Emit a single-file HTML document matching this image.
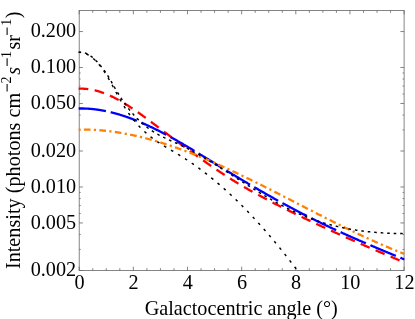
<!DOCTYPE html>
<html><head><meta charset="utf-8"><title>plot</title>
<style>html,body{margin:0;padding:0;background:#fff;}body{width:415px;height:319px;position:relative;overflow:hidden;font-family:"Liberation Serif",serif;}</style>
</head><body>
<svg width="415" height="319" viewBox="0 0 415 319" style="position:absolute;left:0;top:0;will-change:transform">
<rect width="415" height="319" fill="#fff"/>
<defs><clipPath id="c"><rect x="78.3" y="10.5" width="326.3" height="260.0"/></clipPath></defs>
<g stroke="#666" stroke-width="0.8" fill="none">
<rect x="79.2" y="10.5" width="324.90000000000003" height="260.0"/>
<path d="M79.20,270.5 v-3.8 M79.20,10.5 v3.8 M92.74,270.5 v-2.3 M92.74,10.5 v2.3 M106.28,270.5 v-2.3 M106.28,10.5 v2.3 M119.81,270.5 v-2.3 M119.81,10.5 v2.3 M133.35,270.5 v-3.8 M133.35,10.5 v3.8 M146.89,270.5 v-2.3 M146.89,10.5 v2.3 M160.43,270.5 v-2.3 M160.43,10.5 v2.3 M173.96,270.5 v-2.3 M173.96,10.5 v2.3 M187.50,270.5 v-3.8 M187.50,10.5 v3.8 M201.04,270.5 v-2.3 M201.04,10.5 v2.3 M214.57,270.5 v-2.3 M214.57,10.5 v2.3 M228.11,270.5 v-2.3 M228.11,10.5 v2.3 M241.65,270.5 v-3.8 M241.65,10.5 v3.8 M255.19,270.5 v-2.3 M255.19,10.5 v2.3 M268.73,270.5 v-2.3 M268.73,10.5 v2.3 M282.26,270.5 v-2.3 M282.26,10.5 v2.3 M295.80,270.5 v-3.8 M295.80,10.5 v3.8 M309.34,270.5 v-2.3 M309.34,10.5 v2.3 M322.88,270.5 v-2.3 M322.88,10.5 v2.3 M336.41,270.5 v-2.3 M336.41,10.5 v2.3 M349.95,270.5 v-3.8 M349.95,10.5 v3.8 M363.49,270.5 v-2.3 M363.49,10.5 v2.3 M377.03,270.5 v-2.3 M377.03,10.5 v2.3 M390.56,270.5 v-2.3 M390.56,10.5 v2.3 M404.10,270.5 v-3.8 M404.10,10.5 v3.8 M79.2,31.54 h3.7 M404.1,31.54 h-3.7 M79.2,67.51 h3.7 M404.1,67.51 h-3.7 M79.2,103.47 h3.7 M404.1,103.47 h-3.7 M79.2,151.02 h3.7 M404.1,151.02 h-3.7 M79.2,186.99 h3.7 M404.1,186.99 h-3.7 M79.2,222.95 h3.7 M404.1,222.95 h-3.7 M79.2,270.50 h3.7 M404.1,270.50 h-3.7 M79.2,249.46 h1.5 M404.1,249.46 h-1.5 M79.2,234.53 h1.5 M404.1,234.53 h-1.5 M79.2,213.49 h1.5 M404.1,213.49 h-1.5 M79.2,205.49 h1.5 M404.1,205.49 h-1.5 M79.2,198.57 h1.5 M404.1,198.57 h-1.5 M79.2,192.45 h1.5 M404.1,192.45 h-1.5 M79.2,129.98 h1.5 M404.1,129.98 h-1.5 M79.2,115.05 h1.5 M404.1,115.05 h-1.5 M79.2,94.01 h1.5 M404.1,94.01 h-1.5 M79.2,86.01 h1.5 M404.1,86.01 h-1.5 M79.2,79.09 h1.5 M404.1,79.09 h-1.5 M79.2,72.97 h1.5 M404.1,72.97 h-1.5"/>
</g>
<g clip-path="url(#c)" fill="none">
<path d="M78.50,88.75 L78.97,88.73 L79.43,88.71 L79.90,88.69 L80.37,88.68 L80.83,88.68 L81.30,88.68 L81.76,88.68 L82.23,88.68 L82.70,88.69 L83.16,88.71 L83.63,88.73 L84.10,88.75 L84.56,88.78 L85.03,88.81 L85.50,88.84 L85.96,88.88 L86.43,88.92 L86.89,88.97 L87.36,89.02 L87.83,89.07 L88.29,89.13 L88.76,89.19 L89.23,89.26 L89.69,89.33 L90.16,89.40 L90.63,89.48 L91.09,89.56 L91.56,89.64 L92.03,89.73 L92.49,89.82 L92.96,89.92 L93.42,90.02 L93.89,90.12 L94.36,90.23 L94.82,90.34 L95.29,90.45 L95.76,90.56 L96.22,90.68 L96.69,90.81 L97.16,90.93 L97.62,91.06 L98.09,91.20 L98.55,91.33 L99.02,91.47 L99.49,91.62 L99.95,91.76 L100.42,91.91 L100.89,92.07 L101.35,92.22 L101.82,92.38 L102.29,92.54 L102.75,92.71 L103.22,92.88 L103.68,93.05 L104.15,93.22 L104.62,93.40 L105.08,93.58 L105.55,93.76 L106.02,93.95 L106.48,94.14 L106.95,94.33 L107.42,94.53 L107.88,94.72 L108.35,94.92 L108.81,95.13 L109.28,95.33 L109.75,95.54 L110.21,95.75 L110.68,95.97 L111.15,96.19 L111.61,96.41 L112.08,96.63 L112.55,96.85 L113.01,97.08 L113.48,97.31 L113.94,97.54 L114.41,97.78 L114.88,98.01 L115.34,98.25 L115.81,98.50 L116.28,98.74 L116.74,98.99 L117.21,99.24 L117.68,99.49 L118.14,99.74 L118.61,100.00 L119.08,100.26 L119.54,100.52 L120.01,100.78 L120.47,101.05 L120.94,101.31 L121.41,101.58 L121.87,101.86 L122.34,102.13 L122.81,102.40 L123.27,102.68 L123.74,102.96 L124.21,103.24 L124.67,103.53 L125.14,103.81 L125.60,104.10 L126.07,104.39 L126.54,104.68 L127.00,104.97 L127.47,105.27 L127.94,105.56 L128.40,105.86 L128.87,106.16 L129.34,106.46 L129.80,106.77 L130.27,107.07 L130.73,107.38 L131.20,107.68 L131.67,107.99 L132.13,108.30 L132.60,108.62 L133.07,108.93 L133.53,109.25 L134.00,109.56 L134.47,109.88 L134.93,110.20 L135.40,110.52 L135.86,110.84 L136.33,111.17 L136.80,111.49 L137.26,111.82 L137.73,112.14 L138.20,112.47 L138.66,112.80 L139.13,113.13 L139.60,113.46 L140.06,113.79 L140.53,114.13 L140.99,114.46 L141.46,114.80 L141.93,115.13 L142.39,115.47 L142.86,115.81 L143.33,116.15 L143.79,116.49 L144.26,116.83 L144.73,117.17 L145.19,117.51 L145.66,117.85 L146.13,118.20 L146.59,118.54 L147.06,118.89 L147.52,119.23 L147.99,119.58 L148.46,119.92 L148.92,120.27 L149.39,120.62 L149.86,120.97 L150.32,121.32 L150.79,121.67 L151.26,122.02 L151.72,122.36 L152.19,122.72 L152.65,123.07 L153.12,123.42 L153.59,123.77 L154.05,124.12 L154.52,124.47 L154.99,124.82 L155.45,125.17 L155.92,125.53 L156.39,125.88 L156.85,126.23 L157.32,126.58 L157.78,126.94 L158.25,127.29 L158.72,127.64 L159.18,127.99 L159.65,128.35 L160.12,128.70 L160.58,129.05 L161.05,129.40 L161.52,129.75 L161.98,130.11 L162.45,130.46 L162.91,130.81 L163.38,131.16 L163.85,131.51 L164.31,131.87 L164.78,132.22 L165.25,132.57 L165.71,132.92 L166.18,133.27 L166.65,133.62 L167.11,133.97 L167.58,134.33 L168.05,134.68 L168.51,135.03 L168.98,135.38 L169.44,135.73 L169.91,136.08 L170.38,136.43 L170.84,136.78 L171.31,137.13 L171.78,137.48 L172.24,137.83 L172.71,138.18 L173.18,138.53 L173.64,138.88 L174.11,139.22 L174.57,139.57 L175.04,139.92 L175.51,140.27 L175.97,140.62 L176.44,140.97 L176.91,141.31 L177.37,141.66 L177.84,142.01 L178.31,142.36 L178.77,142.70 L179.24,143.05 L179.70,143.40 L180.17,143.74 L180.64,144.09 L181.10,144.43 L181.57,144.78 L182.04,145.12 L182.50,145.47 L182.97,145.81 L183.44,146.16 L183.90,146.50 L184.37,146.85 L184.83,147.19 L185.30,147.53 L185.77,147.87 L186.23,148.22 L186.70,148.56 L187.17,148.90 L187.63,149.24 L188.10,149.59 L188.57,149.93 L189.03,150.27 L189.50,150.61 L189.96,150.95 L190.43,151.29 L190.90,151.63 L191.36,151.97 L191.83,152.30 L192.30,152.64 L192.76,152.98 L193.23,153.32 L193.70,153.66 L194.16,153.99 L194.63,154.33 L195.10,154.67 L195.56,155.00 L196.03,155.34 L196.49,155.67 L196.96,156.01 L197.43,156.34 L197.89,156.68 L198.36,157.01 L198.83,157.34 L199.29,157.67 L199.76,158.01 L200.23,158.34 L200.69,158.67 L201.16,159.00 L201.62,159.33 L202.09,159.66 L202.56,159.99 L203.02,160.32 L203.49,160.65 L203.96,160.98 L204.42,161.30 L204.89,161.63 L205.36,161.96 L205.82,162.28 L206.29,162.61 L206.75,162.94 L207.22,163.26 L207.69,163.58 L208.15,163.91 L208.62,164.23 L209.09,164.55 L209.55,164.88 L210.02,165.20 L210.49,165.52 L210.95,165.84 L211.42,166.16 L211.88,166.48 L212.35,166.80 L212.82,167.12 L213.28,167.44 L213.75,167.75 L214.22,168.07 L214.68,168.39 L215.15,168.70 L215.62,169.02 L216.08,169.33 L216.55,169.64 L217.02,169.96 L217.48,170.27 L217.95,170.58 L218.41,170.89 L218.88,171.21 L219.35,171.52 L219.81,171.83 L220.28,172.13 L220.75,172.44 L221.21,172.75 L221.68,173.06 L222.15,173.36 L222.61,173.67 L223.08,173.98 L223.54,174.28 L224.01,174.58 L224.48,174.89 L224.94,175.19 L225.41,175.49 L225.88,175.79 L226.34,176.09 L226.81,176.39 L227.28,176.69 L227.74,176.99 L228.21,177.29 L228.67,177.59 L229.14,177.88 L229.61,178.18 L230.07,178.47 L230.54,178.77 L231.01,179.06 L231.47,179.36 L231.94,179.65 L232.41,179.94 L232.87,180.23 L233.34,180.52 L233.80,180.81 L234.27,181.10 L234.74,181.38 L235.20,181.67 L235.67,181.96 L236.14,182.24 L236.60,182.53 L237.07,182.81 L237.54,183.09 L238.00,183.38 L238.47,183.66 L238.93,183.94 L239.40,184.22 L239.87,184.50 L240.33,184.78 L240.80,185.05 L241.27,185.33 L241.73,185.61 L242.20,185.88 L242.67,186.16 L243.13,186.43 L243.60,186.70 L244.07,186.97 L244.53,187.25 L245.00,187.52 L245.46,187.79 L245.93,188.06 L246.40,188.33 L246.86,188.59 L247.33,188.86 L247.80,189.13 L248.26,189.39 L248.73,189.66 L249.20,189.92 L249.66,190.19 L250.13,190.45 L250.59,190.71 L251.06,190.97 L251.53,191.24 L251.99,191.50 L252.46,191.76 L252.93,192.02 L253.39,192.28 L253.86,192.53 L254.33,192.79 L254.79,193.05 L255.26,193.31 L255.72,193.56 L256.19,193.82 L256.66,194.07 L257.12,194.33 L257.59,194.58 L258.06,194.83 L258.52,195.09 L258.99,195.34 L259.46,195.59 L259.92,195.84 L260.39,196.09 L260.85,196.34 L261.32,196.59 L261.79,196.84 L262.25,197.09 L262.72,197.34 L263.19,197.59 L263.65,197.83 L264.12,198.08 L264.59,198.33 L265.05,198.57 L265.52,198.82 L265.98,199.06 L266.45,199.31 L266.92,199.55 L267.38,199.80 L267.85,200.04 L268.32,200.29 L268.78,200.53 L269.25,200.77 L269.72,201.01 L270.18,201.25 L270.65,201.50 L271.12,201.74 L271.58,201.98 L272.05,202.22 L272.51,202.46 L272.98,202.70 L273.45,202.94 L273.91,203.18 L274.38,203.41 L274.85,203.65 L275.31,203.89 L275.78,204.13 L276.25,204.37 L276.71,204.60 L277.18,204.84 L277.64,205.08 L278.11,205.31 L278.58,205.55 L279.04,205.79 L279.51,206.02 L279.98,206.26 L280.44,206.49 L280.91,206.73 L281.38,206.96 L281.84,207.20 L282.31,207.43 L282.77,207.66 L283.24,207.90 L283.71,208.13 L284.17,208.36 L284.64,208.60 L285.11,208.83 L285.57,209.06 L286.04,209.29 L286.51,209.52 L286.97,209.76 L287.44,209.99 L287.90,210.22 L288.37,210.45 L288.84,210.68 L289.30,210.91 L289.77,211.14 L290.24,211.37 L290.70,211.60 L291.17,211.83 L291.64,212.06 L292.10,212.28 L292.57,212.51 L293.04,212.74 L293.50,212.97 L293.97,213.20 L294.43,213.42 L294.90,213.65 L295.37,213.88 L295.83,214.10 L296.30,214.33 L296.77,214.56 L297.23,214.78 L297.70,215.01 L298.17,215.23 L298.63,215.46 L299.10,215.69 L299.56,215.91 L300.03,216.13 L300.50,216.36 L300.96,216.58 L301.43,216.81 L301.90,217.03 L302.36,217.25 L302.83,217.48 L303.30,217.70 L303.76,217.92 L304.23,218.15 L304.69,218.37 L305.16,218.59 L305.63,218.81 L306.09,219.04 L306.56,219.26 L307.03,219.48 L307.49,219.70 L307.96,219.92 L308.43,220.14 L308.89,220.36 L309.36,220.58 L309.82,220.80 L310.29,221.02 L310.76,221.24 L311.22,221.46 L311.69,221.68 L312.16,221.90 L312.62,222.12 L313.09,222.34 L313.56,222.56 L314.02,222.78 L314.49,223.00 L314.95,223.21 L315.42,223.43 L315.89,223.65 L316.35,223.87 L316.82,224.08 L317.29,224.30 L317.75,224.52 L318.22,224.74 L318.69,224.95 L319.15,225.17 L319.62,225.39 L320.09,225.60 L320.55,225.82 L321.02,226.03 L321.48,226.25 L321.95,226.46 L322.42,226.68 L322.88,226.90 L323.35,227.11 L323.82,227.33 L324.28,227.54 L324.75,227.75 L325.22,227.97 L325.68,228.18 L326.15,228.40 L326.61,228.61 L327.08,228.82 L327.55,229.04 L328.01,229.25 L328.48,229.46 L328.95,229.68 L329.41,229.89 L329.88,230.10 L330.35,230.32 L330.81,230.53 L331.28,230.74 L331.74,230.95 L332.21,231.16 L332.68,231.38 L333.14,231.59 L333.61,231.80 L334.08,232.01 L334.54,232.22 L335.01,232.43 L335.48,232.64 L335.94,232.85 L336.41,233.06 L336.87,233.27 L337.34,233.48 L337.81,233.69 L338.27,233.90 L338.74,234.11 L339.21,234.32 L339.67,234.53 L340.14,234.74 L340.61,234.95 L341.07,235.16 L341.54,235.37 L342.01,235.58 L342.47,235.79 L342.94,235.99 L343.40,236.20 L343.87,236.41 L344.34,236.62 L344.80,236.83 L345.27,237.03 L345.74,237.24 L346.20,237.45 L346.67,237.66 L347.14,237.86 L347.60,238.07 L348.07,238.28 L348.53,238.48 L349.00,238.69 L349.47,238.90 L349.93,239.10 L350.40,239.31 L350.87,239.51 L351.33,239.72 L351.80,239.93 L352.27,240.13 L352.73,240.34 L353.20,240.54 L353.66,240.75 L354.13,240.95 L354.60,241.16 L355.06,241.36 L355.53,241.57 L356.00,241.77 L356.46,241.98 L356.93,242.18 L357.40,242.38 L357.86,242.59 L358.33,242.79 L358.79,243.00 L359.26,243.20 L359.73,243.40 L360.19,243.61 L360.66,243.81 L361.13,244.01 L361.59,244.21 L362.06,244.42 L362.53,244.62 L362.99,244.82 L363.46,245.03 L363.92,245.23 L364.39,245.43 L364.86,245.63 L365.32,245.83 L365.79,246.04 L366.26,246.24 L366.72,246.44 L367.19,246.64 L367.66,246.84 L368.12,247.04 L368.59,247.24 L369.06,247.45 L369.52,247.65 L369.99,247.85 L370.45,248.05 L370.92,248.25 L371.39,248.45 L371.85,248.65 L372.32,248.85 L372.79,249.05 L373.25,249.25 L373.72,249.45 L374.19,249.65 L374.65,249.85 L375.12,250.05 L375.58,250.25 L376.05,250.45 L376.52,250.65 L376.98,250.85 L377.45,251.04 L377.92,251.24 L378.38,251.44 L378.85,251.64 L379.32,251.84 L379.78,252.04 L380.25,252.24 L380.71,252.43 L381.18,252.63 L381.65,252.83 L382.11,253.03 L382.58,253.23 L383.05,253.42 L383.51,253.62 L383.98,253.82 L384.45,254.02 L384.91,254.22 L385.38,254.41 L385.84,254.61 L386.31,254.81 L386.78,255.00 L387.24,255.20 L387.71,255.40 L388.18,255.59 L388.64,255.79 L389.11,255.99 L389.58,256.18 L390.04,256.38 L390.51,256.58 L390.97,256.77 L391.44,256.97 L391.91,257.16 L392.37,257.36 L392.84,257.56 L393.31,257.75 L393.77,257.95 L394.24,258.14 L394.71,258.34 L395.17,258.53 L395.64,258.73 L396.11,258.93 L396.57,259.12 L397.04,259.32 L397.50,259.51 L397.97,259.71 L398.44,259.90 L398.90,260.09 L399.37,260.29 L399.84,260.48 L400.30,260.68 L400.77,260.87 L401.24,261.07 L401.70,261.26 L402.17,261.46 L402.63,261.65 L403.10,261.84 L403.57,262.04 L404.03,262.23 L404.50,262.43" stroke="#ff0000" stroke-width="2.3" stroke-dasharray="9.8 6.44"/>
<path d="M78.50,108.51 L78.97,108.50 L79.43,108.49 L79.90,108.48 L80.37,108.48 L80.83,108.48 L81.30,108.48 L81.76,108.48 L82.23,108.48 L82.70,108.49 L83.16,108.50 L83.63,108.51 L84.10,108.52 L84.56,108.53 L85.03,108.55 L85.50,108.57 L85.96,108.58 L86.43,108.61 L86.89,108.63 L87.36,108.65 L87.83,108.68 L88.29,108.71 L88.76,108.74 L89.23,108.77 L89.69,108.81 L90.16,108.85 L90.63,108.88 L91.09,108.92 L91.56,108.97 L92.03,109.01 L92.49,109.06 L92.96,109.10 L93.42,109.15 L93.89,109.20 L94.36,109.26 L94.82,109.31 L95.29,109.37 L95.76,109.43 L96.22,109.49 L96.69,109.55 L97.16,109.61 L97.62,109.68 L98.09,109.75 L98.55,109.81 L99.02,109.89 L99.49,109.96 L99.95,110.03 L100.42,110.11 L100.89,110.19 L101.35,110.26 L101.82,110.35 L102.29,110.43 L102.75,110.51 L103.22,110.60 L103.68,110.69 L104.15,110.78 L104.62,110.87 L105.08,110.96 L105.55,111.05 L106.02,111.15 L106.48,111.25 L106.95,111.35 L107.42,111.45 L107.88,111.55 L108.35,111.65 L108.81,111.76 L109.28,111.87 L109.75,111.98 L110.21,112.09 L110.68,112.20 L111.15,112.31 L111.61,112.43 L112.08,112.54 L112.55,112.66 L113.01,112.78 L113.48,112.90 L113.94,113.02 L114.41,113.15 L114.88,113.27 L115.34,113.40 L115.81,113.53 L116.28,113.66 L116.74,113.79 L117.21,113.93 L117.68,114.06 L118.14,114.20 L118.61,114.33 L119.08,114.47 L119.54,114.61 L120.01,114.75 L120.47,114.90 L120.94,115.04 L121.41,115.19 L121.87,115.34 L122.34,115.48 L122.81,115.63 L123.27,115.79 L123.74,115.94 L124.21,116.09 L124.67,116.25 L125.14,116.41 L125.60,116.56 L126.07,116.72 L126.54,116.89 L127.00,117.05 L127.47,117.21 L127.94,117.38 L128.40,117.54 L128.87,117.71 L129.34,117.88 L129.80,118.05 L130.27,118.22 L130.73,118.39 L131.20,118.57 L131.67,118.74 L132.13,118.92 L132.60,119.10 L133.07,119.28 L133.53,119.46 L134.00,119.64 L134.47,119.82 L134.93,120.00 L135.40,120.19 L135.86,120.37 L136.33,120.56 L136.80,120.75 L137.26,120.94 L137.73,121.13 L138.20,121.32 L138.66,121.52 L139.13,121.71 L139.60,121.91 L140.06,122.10 L140.53,122.30 L140.99,122.50 L141.46,122.70 L141.93,122.90 L142.39,123.10 L142.86,123.31 L143.33,123.51 L143.79,123.71 L144.26,123.92 L144.73,124.13 L145.19,124.34 L145.66,124.55 L146.13,124.76 L146.59,124.97 L147.06,125.18 L147.52,125.40 L147.99,125.61 L148.46,125.83 L148.92,126.04 L149.39,126.26 L149.86,126.48 L150.32,126.70 L150.79,126.92 L151.26,127.14 L151.72,127.36 L152.19,127.59 L152.65,127.81 L153.12,128.04 L153.59,128.26 L154.05,128.49 L154.52,128.72 L154.99,128.95 L155.45,129.18 L155.92,129.41 L156.39,129.64 L156.85,129.87 L157.32,130.11 L157.78,130.34 L158.25,130.58 L158.72,130.81 L159.18,131.05 L159.65,131.29 L160.12,131.53 L160.58,131.77 L161.05,132.01 L161.52,132.25 L161.98,132.49 L162.45,132.73 L162.91,132.98 L163.38,133.22 L163.85,133.47 L164.31,133.71 L164.78,133.96 L165.25,134.21 L165.71,134.45 L166.18,134.70 L166.65,134.95 L167.11,135.20 L167.58,135.45 L168.05,135.71 L168.51,135.96 L168.98,136.21 L169.44,136.47 L169.91,136.72 L170.38,136.98 L170.84,137.23 L171.31,137.49 L171.78,137.75 L172.24,138.00 L172.71,138.26 L173.18,138.52 L173.64,138.78 L174.11,139.04 L174.57,139.30 L175.04,139.56 L175.51,139.83 L175.97,140.09 L176.44,140.35 L176.91,140.62 L177.37,140.88 L177.84,141.15 L178.31,141.41 L178.77,141.68 L179.24,141.95 L179.70,142.22 L180.17,142.48 L180.64,142.75 L181.10,143.02 L181.57,143.29 L182.04,143.56 L182.50,143.83 L182.97,144.10 L183.44,144.38 L183.90,144.65 L184.37,144.92 L184.83,145.19 L185.30,145.47 L185.77,145.74 L186.23,146.02 L186.70,146.29 L187.17,146.57 L187.63,146.84 L188.10,147.12 L188.57,147.40 L189.03,147.67 L189.50,147.95 L189.96,148.23 L190.43,148.51 L190.90,148.79 L191.36,149.06 L191.83,149.34 L192.30,149.62 L192.76,149.90 L193.23,150.18 L193.70,150.47 L194.16,150.75 L194.63,151.03 L195.10,151.31 L195.56,151.59 L196.03,151.88 L196.49,152.16 L196.96,152.44 L197.43,152.72 L197.89,153.01 L198.36,153.29 L198.83,153.58 L199.29,153.86 L199.76,154.15 L200.23,154.43 L200.69,154.72 L201.16,155.00 L201.62,155.29 L202.09,155.57 L202.56,155.86 L203.02,156.14 L203.49,156.43 L203.96,156.72 L204.42,157.00 L204.89,157.29 L205.36,157.58 L205.82,157.86 L206.29,158.15 L206.75,158.44 L207.22,158.73 L207.69,159.01 L208.15,159.30 L208.62,159.59 L209.09,159.88 L209.55,160.16 L210.02,160.45 L210.49,160.74 L210.95,161.03 L211.42,161.32 L211.88,161.60 L212.35,161.89 L212.82,162.18 L213.28,162.47 L213.75,162.76 L214.22,163.04 L214.68,163.33 L215.15,163.62 L215.62,163.91 L216.08,164.19 L216.55,164.48 L217.02,164.77 L217.48,165.06 L217.95,165.34 L218.41,165.63 L218.88,165.92 L219.35,166.21 L219.81,166.49 L220.28,166.78 L220.75,167.07 L221.21,167.35 L221.68,167.64 L222.15,167.92 L222.61,168.21 L223.08,168.50 L223.54,168.78 L224.01,169.07 L224.48,169.35 L224.94,169.64 L225.41,169.92 L225.88,170.21 L226.34,170.49 L226.81,170.78 L227.28,171.06 L227.74,171.34 L228.21,171.63 L228.67,171.91 L229.14,172.20 L229.61,172.48 L230.07,172.76 L230.54,173.04 L231.01,173.33 L231.47,173.61 L231.94,173.89 L232.41,174.17 L232.87,174.46 L233.34,174.74 L233.80,175.02 L234.27,175.30 L234.74,175.58 L235.20,175.86 L235.67,176.14 L236.14,176.43 L236.60,176.71 L237.07,176.99 L237.54,177.27 L238.00,177.55 L238.47,177.83 L238.93,178.10 L239.40,178.38 L239.87,178.66 L240.33,178.94 L240.80,179.22 L241.27,179.50 L241.73,179.78 L242.20,180.05 L242.67,180.33 L243.13,180.61 L243.60,180.89 L244.07,181.16 L244.53,181.44 L245.00,181.72 L245.46,181.99 L245.93,182.27 L246.40,182.55 L246.86,182.82 L247.33,183.10 L247.80,183.37 L248.26,183.65 L248.73,183.92 L249.20,184.20 L249.66,184.47 L250.13,184.74 L250.59,185.02 L251.06,185.29 L251.53,185.57 L251.99,185.84 L252.46,186.11 L252.93,186.38 L253.39,186.66 L253.86,186.93 L254.33,187.20 L254.79,187.47 L255.26,187.74 L255.72,188.01 L256.19,188.29 L256.66,188.56 L257.12,188.83 L257.59,189.10 L258.06,189.37 L258.52,189.64 L258.99,189.91 L259.46,190.17 L259.92,190.44 L260.39,190.71 L260.85,190.98 L261.32,191.25 L261.79,191.52 L262.25,191.78 L262.72,192.05 L263.19,192.32 L263.65,192.58 L264.12,192.85 L264.59,193.12 L265.05,193.38 L265.52,193.65 L265.98,193.91 L266.45,194.18 L266.92,194.44 L267.38,194.71 L267.85,194.97 L268.32,195.24 L268.78,195.50 L269.25,195.76 L269.72,196.03 L270.18,196.29 L270.65,196.55 L271.12,196.81 L271.58,197.08 L272.05,197.34 L272.51,197.60 L272.98,197.86 L273.45,198.12 L273.91,198.38 L274.38,198.64 L274.85,198.90 L275.31,199.16 L275.78,199.42 L276.25,199.68 L276.71,199.94 L277.18,200.20 L277.64,200.46 L278.11,200.71 L278.58,200.97 L279.04,201.23 L279.51,201.49 L279.98,201.74 L280.44,202.00 L280.91,202.25 L281.38,202.51 L281.84,202.77 L282.31,203.02 L282.77,203.28 L283.24,203.53 L283.71,203.78 L284.17,204.04 L284.64,204.29 L285.11,204.54 L285.57,204.80 L286.04,205.05 L286.51,205.30 L286.97,205.55 L287.44,205.80 L287.90,206.06 L288.37,206.31 L288.84,206.56 L289.30,206.81 L289.77,207.06 L290.24,207.31 L290.70,207.56 L291.17,207.80 L291.64,208.05 L292.10,208.30 L292.57,208.55 L293.04,208.80 L293.50,209.04 L293.97,209.29 L294.43,209.54 L294.90,209.78 L295.37,210.03 L295.83,210.27 L296.30,210.52 L296.77,210.76 L297.23,211.01 L297.70,211.25 L298.17,211.50 L298.63,211.74 L299.10,211.98 L299.56,212.22 L300.03,212.47 L300.50,212.71 L300.96,212.95 L301.43,213.19 L301.90,213.43 L302.36,213.67 L302.83,213.91 L303.30,214.15 L303.76,214.39 L304.23,214.63 L304.69,214.87 L305.16,215.11 L305.63,215.34 L306.09,215.58 L306.56,215.82 L307.03,216.06 L307.49,216.29 L307.96,216.53 L308.43,216.76 L308.89,217.00 L309.36,217.23 L309.82,217.47 L310.29,217.70 L310.76,217.94 L311.22,218.17 L311.69,218.40 L312.16,218.63 L312.62,218.87 L313.09,219.10 L313.56,219.33 L314.02,219.56 L314.49,219.79 L314.95,220.02 L315.42,220.25 L315.89,220.48 L316.35,220.71 L316.82,220.94 L317.29,221.17 L317.75,221.39 L318.22,221.62 L318.69,221.85 L319.15,222.08 L319.62,222.30 L320.09,222.53 L320.55,222.75 L321.02,222.98 L321.48,223.20 L321.95,223.43 L322.42,223.65 L322.88,223.88 L323.35,224.10 L323.82,224.33 L324.28,224.55 L324.75,224.77 L325.22,224.99 L325.68,225.22 L326.15,225.44 L326.61,225.66 L327.08,225.88 L327.55,226.10 L328.01,226.32 L328.48,226.54 L328.95,226.76 L329.41,226.98 L329.88,227.20 L330.35,227.42 L330.81,227.64 L331.28,227.86 L331.74,228.07 L332.21,228.29 L332.68,228.51 L333.14,228.73 L333.61,228.94 L334.08,229.16 L334.54,229.37 L335.01,229.59 L335.48,229.81 L335.94,230.02 L336.41,230.24 L336.87,230.45 L337.34,230.66 L337.81,230.88 L338.27,231.09 L338.74,231.31 L339.21,231.52 L339.67,231.73 L340.14,231.95 L340.61,232.16 L341.07,232.37 L341.54,232.58 L342.01,232.79 L342.47,233.00 L342.94,233.22 L343.40,233.43 L343.87,233.64 L344.34,233.85 L344.80,234.06 L345.27,234.27 L345.74,234.48 L346.20,234.69 L346.67,234.89 L347.14,235.10 L347.60,235.31 L348.07,235.52 L348.53,235.73 L349.00,235.94 L349.47,236.14 L349.93,236.35 L350.40,236.56 L350.87,236.76 L351.33,236.97 L351.80,237.18 L352.27,237.38 L352.73,237.59 L353.20,237.80 L353.66,238.00 L354.13,238.21 L354.60,238.41 L355.06,238.62 L355.53,238.82 L356.00,239.03 L356.46,239.23 L356.93,239.43 L357.40,239.64 L357.86,239.84 L358.33,240.04 L358.79,240.25 L359.26,240.45 L359.73,240.65 L360.19,240.86 L360.66,241.06 L361.13,241.26 L361.59,241.46 L362.06,241.66 L362.53,241.86 L362.99,242.07 L363.46,242.27 L363.92,242.47 L364.39,242.67 L364.86,242.87 L365.32,243.07 L365.79,243.27 L366.26,243.47 L366.72,243.67 L367.19,243.87 L367.66,244.07 L368.12,244.27 L368.59,244.47 L369.06,244.67 L369.52,244.87 L369.99,245.07 L370.45,245.26 L370.92,245.46 L371.39,245.66 L371.85,245.86 L372.32,246.06 L372.79,246.25 L373.25,246.45 L373.72,246.65 L374.19,246.85 L374.65,247.04 L375.12,247.24 L375.58,247.44 L376.05,247.64 L376.52,247.83 L376.98,248.03 L377.45,248.23 L377.92,248.42 L378.38,248.62 L378.85,248.81 L379.32,249.01 L379.78,249.21 L380.25,249.40 L380.71,249.60 L381.18,249.79 L381.65,249.99 L382.11,250.18 L382.58,250.38 L383.05,250.57 L383.51,250.77 L383.98,250.96 L384.45,251.16 L384.91,251.35 L385.38,251.55 L385.84,251.74 L386.31,251.94 L386.78,252.13 L387.24,252.32 L387.71,252.52 L388.18,252.71 L388.64,252.91 L389.11,253.10 L389.58,253.29 L390.04,253.49 L390.51,253.68 L390.97,253.87 L391.44,254.07 L391.91,254.26 L392.37,254.45 L392.84,254.65 L393.31,254.84 L393.77,255.03 L394.24,255.23 L394.71,255.42 L395.17,255.61 L395.64,255.80 L396.11,256.00 L396.57,256.19 L397.04,256.38 L397.50,256.58 L397.97,256.77 L398.44,256.96 L398.90,257.15 L399.37,257.35 L399.84,257.54 L400.30,257.73 L400.77,257.92 L401.24,258.11 L401.70,258.31 L402.17,258.50 L402.63,258.69 L403.10,258.88 L403.57,259.07 L404.03,259.27 L404.50,259.46" stroke="#0000ff" stroke-width="2.3" stroke-dasharray="27.6 4.9"/>
<path d="M78.50,129.56 L78.97,129.56 L79.43,129.55 L79.90,129.55 L80.37,129.54 L80.83,129.54 L81.30,129.53 L81.76,129.53 L82.23,129.53 L82.70,129.53 L83.16,129.54 L83.63,129.54 L84.10,129.54 L84.56,129.55 L85.03,129.55 L85.50,129.56 L85.96,129.57 L86.43,129.58 L86.89,129.59 L87.36,129.60 L87.83,129.61 L88.29,129.62 L88.76,129.64 L89.23,129.65 L89.69,129.67 L90.16,129.69 L90.63,129.70 L91.09,129.72 L91.56,129.74 L92.03,129.76 L92.49,129.79 L92.96,129.81 L93.42,129.83 L93.89,129.86 L94.36,129.89 L94.82,129.91 L95.29,129.94 L95.76,129.97 L96.22,130.00 L96.69,130.03 L97.16,130.06 L97.62,130.10 L98.09,130.13 L98.55,130.16 L99.02,130.20 L99.49,130.24 L99.95,130.27 L100.42,130.31 L100.89,130.35 L101.35,130.39 L101.82,130.43 L102.29,130.48 L102.75,130.52 L103.22,130.56 L103.68,130.61 L104.15,130.66 L104.62,130.70 L105.08,130.75 L105.55,130.80 L106.02,130.85 L106.48,130.90 L106.95,130.95 L107.42,131.01 L107.88,131.06 L108.35,131.11 L108.81,131.17 L109.28,131.23 L109.75,131.28 L110.21,131.34 L110.68,131.40 L111.15,131.46 L111.61,131.52 L112.08,131.58 L112.55,131.65 L113.01,131.71 L113.48,131.78 L113.94,131.84 L114.41,131.91 L114.88,131.97 L115.34,132.04 L115.81,132.11 L116.28,132.18 L116.74,132.25 L117.21,132.32 L117.68,132.40 L118.14,132.47 L118.61,132.54 L119.08,132.62 L119.54,132.69 L120.01,132.77 L120.47,132.85 L120.94,132.93 L121.41,133.01 L121.87,133.09 L122.34,133.17 L122.81,133.25 L123.27,133.33 L123.74,133.42 L124.21,133.50 L124.67,133.59 L125.14,133.67 L125.60,133.76 L126.07,133.85 L126.54,133.94 L127.00,134.03 L127.47,134.12 L127.94,134.21 L128.40,134.30 L128.87,134.39 L129.34,134.49 L129.80,134.58 L130.27,134.67 L130.73,134.77 L131.20,134.87 L131.67,134.97 L132.13,135.06 L132.60,135.16 L133.07,135.26 L133.53,135.36 L134.00,135.47 L134.47,135.57 L134.93,135.67 L135.40,135.77 L135.86,135.88 L136.33,135.98 L136.80,136.09 L137.26,136.20 L137.73,136.31 L138.20,136.41 L138.66,136.52 L139.13,136.63 L139.60,136.75 L140.06,136.86 L140.53,136.97 L140.99,137.08 L141.46,137.20 L141.93,137.31 L142.39,137.43 L142.86,137.54 L143.33,137.66 L143.79,137.78 L144.26,137.90 L144.73,138.02 L145.19,138.14 L145.66,138.26 L146.13,138.38 L146.59,138.50 L147.06,138.62 L147.52,138.75 L147.99,138.87 L148.46,139.00 L148.92,139.12 L149.39,139.25 L149.86,139.37 L150.32,139.50 L150.79,139.63 L151.26,139.76 L151.72,139.89 L152.19,140.02 L152.65,140.15 L153.12,140.29 L153.59,140.42 L154.05,140.55 L154.52,140.69 L154.99,140.82 L155.45,140.96 L155.92,141.09 L156.39,141.23 L156.85,141.37 L157.32,141.51 L157.78,141.64 L158.25,141.78 L158.72,141.92 L159.18,142.07 L159.65,142.21 L160.12,142.35 L160.58,142.49 L161.05,142.64 L161.52,142.78 L161.98,142.93 L162.45,143.07 L162.91,143.22 L163.38,143.37 L163.85,143.51 L164.31,143.66 L164.78,143.81 L165.25,143.96 L165.71,144.11 L166.18,144.26 L166.65,144.41 L167.11,144.56 L167.58,144.72 L168.05,144.87 L168.51,145.02 L168.98,145.18 L169.44,145.33 L169.91,145.49 L170.38,145.65 L170.84,145.80 L171.31,145.96 L171.78,146.12 L172.24,146.28 L172.71,146.44 L173.18,146.60 L173.64,146.76 L174.11,146.92 L174.57,147.08 L175.04,147.24 L175.51,147.41 L175.97,147.57 L176.44,147.74 L176.91,147.90 L177.37,148.07 L177.84,148.23 L178.31,148.40 L178.77,148.57 L179.24,148.73 L179.70,148.90 L180.17,149.07 L180.64,149.24 L181.10,149.41 L181.57,149.58 L182.04,149.75 L182.50,149.92 L182.97,150.10 L183.44,150.27 L183.90,150.44 L184.37,150.62 L184.83,150.79 L185.30,150.97 L185.77,151.14 L186.23,151.32 L186.70,151.49 L187.17,151.67 L187.63,151.85 L188.10,152.03 L188.57,152.21 L189.03,152.39 L189.50,152.57 L189.96,152.75 L190.43,152.93 L190.90,153.11 L191.36,153.29 L191.83,153.47 L192.30,153.65 L192.76,153.84 L193.23,154.02 L193.70,154.21 L194.16,154.39 L194.63,154.58 L195.10,154.76 L195.56,154.95 L196.03,155.14 L196.49,155.32 L196.96,155.51 L197.43,155.70 L197.89,155.89 L198.36,156.08 L198.83,156.27 L199.29,156.46 L199.76,156.65 L200.23,156.84 L200.69,157.03 L201.16,157.22 L201.62,157.42 L202.09,157.61 L202.56,157.80 L203.02,158.00 L203.49,158.19 L203.96,158.39 L204.42,158.58 L204.89,158.78 L205.36,158.97 L205.82,159.17 L206.29,159.37 L206.75,159.56 L207.22,159.76 L207.69,159.96 L208.15,160.16 L208.62,160.36 L209.09,160.56 L209.55,160.76 L210.02,160.96 L210.49,161.16 L210.95,161.36 L211.42,161.56 L211.88,161.77 L212.35,161.97 L212.82,162.17 L213.28,162.38 L213.75,162.58 L214.22,162.78 L214.68,162.99 L215.15,163.19 L215.62,163.40 L216.08,163.61 L216.55,163.81 L217.02,164.02 L217.48,164.23 L217.95,164.43 L218.41,164.64 L218.88,164.85 L219.35,165.06 L219.81,165.27 L220.28,165.48 L220.75,165.69 L221.21,165.90 L221.68,166.11 L222.15,166.32 L222.61,166.53 L223.08,166.74 L223.54,166.95 L224.01,167.16 L224.48,167.38 L224.94,167.59 L225.41,167.80 L225.88,168.02 L226.34,168.23 L226.81,168.44 L227.28,168.66 L227.74,168.87 L228.21,169.09 L228.67,169.31 L229.14,169.52 L229.61,169.74 L230.07,169.95 L230.54,170.17 L231.01,170.39 L231.47,170.61 L231.94,170.82 L232.41,171.04 L232.87,171.26 L233.34,171.48 L233.80,171.70 L234.27,171.92 L234.74,172.14 L235.20,172.36 L235.67,172.58 L236.14,172.80 L236.60,173.02 L237.07,173.24 L237.54,173.46 L238.00,173.69 L238.47,173.91 L238.93,174.13 L239.40,174.35 L239.87,174.58 L240.33,174.80 L240.80,175.02 L241.27,175.25 L241.73,175.47 L242.20,175.69 L242.67,175.92 L243.13,176.14 L243.60,176.37 L244.07,176.59 L244.53,176.82 L245.00,177.05 L245.46,177.27 L245.93,177.50 L246.40,177.73 L246.86,177.95 L247.33,178.18 L247.80,178.41 L248.26,178.63 L248.73,178.86 L249.20,179.09 L249.66,179.32 L250.13,179.55 L250.59,179.78 L251.06,180.01 L251.53,180.23 L251.99,180.46 L252.46,180.69 L252.93,180.92 L253.39,181.15 L253.86,181.38 L254.33,181.61 L254.79,181.84 L255.26,182.08 L255.72,182.31 L256.19,182.54 L256.66,182.77 L257.12,183.00 L257.59,183.23 L258.06,183.47 L258.52,183.70 L258.99,183.93 L259.46,184.16 L259.92,184.40 L260.39,184.63 L260.85,184.86 L261.32,185.10 L261.79,185.33 L262.25,185.56 L262.72,185.80 L263.19,186.03 L263.65,186.26 L264.12,186.50 L264.59,186.73 L265.05,186.97 L265.52,187.20 L265.98,187.44 L266.45,187.67 L266.92,187.91 L267.38,188.14 L267.85,188.38 L268.32,188.62 L268.78,188.85 L269.25,189.09 L269.72,189.32 L270.18,189.56 L270.65,189.80 L271.12,190.03 L271.58,190.27 L272.05,190.51 L272.51,190.74 L272.98,190.98 L273.45,191.22 L273.91,191.45 L274.38,191.69 L274.85,191.93 L275.31,192.17 L275.78,192.40 L276.25,192.64 L276.71,192.88 L277.18,193.12 L277.64,193.36 L278.11,193.59 L278.58,193.83 L279.04,194.07 L279.51,194.31 L279.98,194.55 L280.44,194.79 L280.91,195.02 L281.38,195.26 L281.84,195.50 L282.31,195.74 L282.77,195.98 L283.24,196.22 L283.71,196.46 L284.17,196.70 L284.64,196.94 L285.11,197.18 L285.57,197.41 L286.04,197.65 L286.51,197.89 L286.97,198.13 L287.44,198.37 L287.90,198.61 L288.37,198.85 L288.84,199.09 L289.30,199.33 L289.77,199.57 L290.24,199.81 L290.70,200.05 L291.17,200.29 L291.64,200.53 L292.10,200.77 L292.57,201.01 L293.04,201.25 L293.50,201.49 L293.97,201.73 L294.43,201.97 L294.90,202.21 L295.37,202.45 L295.83,202.69 L296.30,202.93 L296.77,203.17 L297.23,203.41 L297.70,203.65 L298.17,203.89 L298.63,204.13 L299.10,204.37 L299.56,204.61 L300.03,204.85 L300.50,205.09 L300.96,205.33 L301.43,205.57 L301.90,205.81 L302.36,206.05 L302.83,206.29 L303.30,206.53 L303.76,206.77 L304.23,207.01 L304.69,207.25 L305.16,207.49 L305.63,207.73 L306.09,207.97 L306.56,208.21 L307.03,208.45 L307.49,208.69 L307.96,208.92 L308.43,209.16 L308.89,209.40 L309.36,209.64 L309.82,209.88 L310.29,210.12 L310.76,210.36 L311.22,210.60 L311.69,210.84 L312.16,211.08 L312.62,211.31 L313.09,211.55 L313.56,211.79 L314.02,212.03 L314.49,212.27 L314.95,212.51 L315.42,212.75 L315.89,212.98 L316.35,213.22 L316.82,213.46 L317.29,213.70 L317.75,213.94 L318.22,214.17 L318.69,214.41 L319.15,214.65 L319.62,214.89 L320.09,215.12 L320.55,215.36 L321.02,215.60 L321.48,215.83 L321.95,216.07 L322.42,216.31 L322.88,216.54 L323.35,216.78 L323.82,217.02 L324.28,217.25 L324.75,217.49 L325.22,217.72 L325.68,217.96 L326.15,218.20 L326.61,218.43 L327.08,218.67 L327.55,218.90 L328.01,219.14 L328.48,219.37 L328.95,219.61 L329.41,219.84 L329.88,220.07 L330.35,220.31 L330.81,220.54 L331.28,220.78 L331.74,221.01 L332.21,221.24 L332.68,221.48 L333.14,221.71 L333.61,221.94 L334.08,222.18 L334.54,222.41 L335.01,222.64 L335.48,222.87 L335.94,223.11 L336.41,223.34 L336.87,223.57 L337.34,223.80 L337.81,224.03 L338.27,224.26 L338.74,224.49 L339.21,224.73 L339.67,224.96 L340.14,225.19 L340.61,225.42 L341.07,225.65 L341.54,225.88 L342.01,226.11 L342.47,226.33 L342.94,226.56 L343.40,226.79 L343.87,227.02 L344.34,227.25 L344.80,227.48 L345.27,227.70 L345.74,227.93 L346.20,228.16 L346.67,228.39 L347.14,228.61 L347.60,228.84 L348.07,229.07 L348.53,229.29 L349.00,229.52 L349.47,229.74 L349.93,229.97 L350.40,230.20 L350.87,230.42 L351.33,230.64 L351.80,230.87 L352.27,231.09 L352.73,231.32 L353.20,231.54 L353.66,231.76 L354.13,231.99 L354.60,232.21 L355.06,232.43 L355.53,232.65 L356.00,232.88 L356.46,233.10 L356.93,233.32 L357.40,233.54 L357.86,233.76 L358.33,233.98 L358.79,234.20 L359.26,234.42 L359.73,234.64 L360.19,234.86 L360.66,235.08 L361.13,235.30 L361.59,235.52 L362.06,235.73 L362.53,235.95 L362.99,236.17 L363.46,236.39 L363.92,236.60 L364.39,236.82 L364.86,237.03 L365.32,237.25 L365.79,237.47 L366.26,237.68 L366.72,237.90 L367.19,238.11 L367.66,238.32 L368.12,238.54 L368.59,238.75 L369.06,238.96 L369.52,239.18 L369.99,239.39 L370.45,239.60 L370.92,239.81 L371.39,240.02 L371.85,240.23 L372.32,240.44 L372.79,240.65 L373.25,240.86 L373.72,241.07 L374.19,241.28 L374.65,241.49 L375.12,241.70 L375.58,241.91 L376.05,242.11 L376.52,242.32 L376.98,242.53 L377.45,242.73 L377.92,242.94 L378.38,243.15 L378.85,243.35 L379.32,243.56 L379.78,243.76 L380.25,243.96 L380.71,244.17 L381.18,244.37 L381.65,244.57 L382.11,244.78 L382.58,244.98 L383.05,245.18 L383.51,245.38 L383.98,245.58 L384.45,245.78 L384.91,245.98 L385.38,246.18 L385.84,246.38 L386.31,246.58 L386.78,246.77 L387.24,246.97 L387.71,247.17 L388.18,247.37 L388.64,247.56 L389.11,247.76 L389.58,247.95 L390.04,248.15 L390.51,248.34 L390.97,248.54 L391.44,248.73 L391.91,248.92 L392.37,249.12 L392.84,249.31 L393.31,249.50 L393.77,249.69 L394.24,249.88 L394.71,250.07 L395.17,250.26 L395.64,250.45 L396.11,250.64 L396.57,250.83 L397.04,251.02 L397.50,251.20 L397.97,251.39 L398.44,251.58 L398.90,251.76 L399.37,251.95 L399.84,252.13 L400.30,252.32 L400.77,252.50 L401.24,252.68 L401.70,252.87 L402.17,253.05 L402.63,253.23 L403.10,253.41 L403.57,253.59 L404.03,253.77 L404.50,253.95" stroke="#ff8000" stroke-width="2.3" stroke-dasharray="6.65 3.35 2.2 3.35" stroke-dashoffset="10.2"/>
<path d="M78.50,52.32 L78.81,52.32 L79.13,52.32 L79.44,52.33 L79.75,52.34 L80.06,52.36 L80.38,52.39 L80.69,52.42 L81.00,52.45 L81.31,52.49 L81.63,52.54 L81.94,52.60 L82.25,52.66 L82.56,52.72 L82.88,52.80 L83.19,52.87 L83.50,52.96 L83.81,53.05 L84.13,53.14 L84.44,53.24 L84.75,53.35 L85.06,53.46 L85.38,53.58 L85.69,53.71 L86.00,53.84 L86.31,53.98 L86.63,54.12 L86.94,54.27 L87.25,54.42 L87.57,54.58 L87.88,54.75 L88.19,54.92 L88.50,55.10 L88.82,55.28 L89.13,55.47 L89.44,55.67 L89.75,55.87 L90.07,56.08 L90.38,56.29 L90.69,56.51 L91.00,56.73 L91.32,56.96 L91.63,57.20 L91.94,57.44 L92.25,57.69 L92.57,57.94 L92.88,58.20 L93.19,58.47 L93.50,58.74 L93.82,59.02 L94.13,59.30 L94.44,59.59 L94.75,59.88 L95.07,60.18 L95.38,60.49 L95.69,60.80 L96.01,61.12 L96.32,61.44 L96.63,61.77 L96.94,62.11 L97.26,62.45 L97.57,62.80 L97.88,63.15 L98.19,63.51 L98.51,63.87 L98.82,64.24 L99.13,64.62 L99.44,65.00 L99.76,65.39 L100.07,65.78 L100.38,66.18 L100.69,66.58 L101.01,67.00 L101.32,67.41 L101.63,67.83 L101.94,68.26 L102.26,68.70 L102.57,69.14 L102.88,69.58 L103.19,70.03 L103.51,70.49 L103.82,70.95 L104.13,71.42 L104.44,71.90 L104.76,72.37 L105.07,72.86 L105.38,73.35 L105.70,73.85 L106.01,74.35 L106.32,74.85 L106.63,75.36 L106.95,75.87 L107.26,76.39 L107.57,76.92 L107.88,77.44 L108.20,77.97 L108.51,78.51 L108.82,79.05 L109.13,79.59 L109.45,80.14 L109.76,80.69 L110.07,81.24 L110.38,81.79 L110.70,82.35 L111.01,82.91 L111.32,83.48 L111.63,84.04 L111.95,84.61 L112.26,85.18 L112.57,85.76 L112.88,86.33 L113.20,86.91 L113.51,87.49 L113.82,88.07 L114.14,88.65 L114.45,89.23 L114.76,89.81 L115.07,90.40 L115.39,90.98 L115.70,91.57 L116.01,92.15 L116.32,92.73 L116.64,93.32 L116.95,93.90 L117.26,94.48 L117.57,95.06 L117.89,95.64 L118.20,96.21 L118.51,96.79 L118.82,97.36 L119.14,97.92 L119.45,98.49 L119.76,99.05 L120.07,99.61 L120.39,100.16 L120.70,100.71 L121.01,101.26 L121.32,101.80 L121.64,102.34 L121.95,102.87 L122.26,103.40 L122.58,103.92 L122.89,104.44 L123.20,104.96 L123.51,105.47 L123.83,105.98 L124.14,106.48 L124.45,106.98 L124.76,107.48 L125.08,107.97 L125.39,108.45 L125.70,108.94 L126.01,109.41 L126.33,109.89 L126.64,110.36 L126.95,110.83 L127.26,111.29 L127.58,111.75 L127.89,112.20 L128.20,112.65 L128.51,113.10 L128.83,113.54 L129.14,113.98 L129.45,114.42 L129.76,114.85 L130.08,115.28 L130.39,115.71 L130.70,116.13 L131.02,116.54 L131.33,116.96 L131.64,117.37 L131.95,117.78 L132.27,118.18 L132.58,118.58 L132.89,118.98 L133.20,119.37 L133.52,119.76 L133.83,120.15 L134.14,120.53 L134.45,120.91 L134.77,121.29 L135.08,121.66 L135.39,122.03 L135.70,122.40 L136.02,122.76 L136.33,123.13 L136.64,123.48 L136.95,123.84 L137.27,124.19 L137.58,124.54 L137.89,124.88 L138.20,125.23 L138.52,125.57 L138.83,125.90 L139.14,126.24 L139.45,126.57 L139.77,126.90 L140.08,127.22 L140.39,127.55 L140.71,127.87 L141.02,128.18 L141.33,128.50 L141.64,128.81 L141.96,129.12 L142.27,129.43 L142.58,129.73 L142.89,130.03 L143.21,130.33 L143.52,130.63 L143.83,130.92 L144.14,131.21 L144.46,131.50 L144.77,131.79 L145.08,132.07 L145.39,132.36 L145.71,132.64 L146.02,132.91 L146.33,133.19 L146.64,133.46 L146.96,133.73 L147.27,134.00 L147.58,134.27 L147.89,134.53 L148.21,134.80 L148.52,135.06 L148.83,135.31 L149.15,135.57 L149.46,135.82 L149.77,136.08 L150.08,136.33 L150.40,136.58 L150.71,136.82 L151.02,137.07 L151.33,137.31 L151.65,137.55 L151.96,137.79 L152.27,138.03 L152.58,138.26 L152.90,138.50 L153.21,138.73 L153.52,138.96 L153.83,139.19 L154.15,139.42 L154.46,139.65 L154.77,139.87 L155.08,140.09 L155.40,140.32 L155.71,140.54 L156.02,140.75 L156.33,140.97 L156.65,141.19 L156.96,141.40 L157.27,141.62 L157.59,141.83 L157.90,142.04 L158.21,142.25 L158.52,142.46 L158.84,142.67 L159.15,142.87 L159.46,143.08 L159.77,143.28 L160.09,143.48 L160.40,143.69 L160.71,143.89 L161.02,144.09 L161.34,144.29 L161.65,144.48 L161.96,144.68 L162.27,144.88 L162.59,145.07 L162.90,145.27 L163.21,145.46 L163.52,145.66 L163.84,145.85 L164.15,146.04 L164.46,146.23 L164.77,146.42 L165.09,146.61 L165.40,146.80 L165.71,146.99 L166.03,147.18 L166.34,147.36 L166.65,147.55 L166.96,147.74 L167.28,147.92 L167.59,148.11 L167.90,148.29 L168.21,148.48 L168.53,148.66 L168.84,148.85 L169.15,149.03 L169.46,149.22 L169.78,149.40 L170.09,149.58 L170.40,149.77 L170.71,149.95 L171.03,150.13 L171.34,150.32 L171.65,150.50 L171.96,150.68 L172.28,150.87 L172.59,151.05 L172.90,151.23 L173.21,151.41 L173.53,151.60 L173.84,151.78 L174.15,151.96 L174.46,152.15 L174.78,152.33 L175.09,152.52 L175.40,152.70 L175.72,152.89 L176.03,153.07 L176.34,153.26 L176.65,153.44 L176.97,153.63 L177.28,153.81 L177.59,154.00 L177.90,154.19 L178.22,154.38 L178.53,154.57 L178.84,154.76 L179.15,154.95 L179.47,155.14 L179.78,155.33 L180.09,155.52 L180.40,155.71 L180.72,155.90 L181.03,156.10 L181.34,156.29 L181.65,156.49 L181.97,156.68 L182.28,156.88 L182.59,157.08 L182.90,157.27 L183.22,157.47 L183.53,157.67 L183.84,157.87 L184.16,158.07 L184.47,158.27 L184.78,158.47 L185.09,158.67 L185.41,158.87 L185.72,159.08 L186.03,159.28 L186.34,159.49 L186.66,159.69 L186.97,159.90 L187.28,160.10 L187.59,160.31 L187.91,160.52 L188.22,160.72 L188.53,160.93 L188.84,161.14 L189.16,161.35 L189.47,161.56 L189.78,161.77 L190.09,161.99 L190.41,162.20 L190.72,162.41 L191.03,162.63 L191.34,162.84 L191.66,163.05 L191.97,163.27 L192.28,163.49 L192.60,163.70 L192.91,163.92 L193.22,164.14 L193.53,164.36 L193.85,164.58 L194.16,164.80 L194.47,165.02 L194.78,165.24 L195.10,165.46 L195.41,165.68 L195.72,165.91 L196.03,166.13 L196.35,166.35 L196.66,166.58 L196.97,166.80 L197.28,167.03 L197.60,167.26 L197.91,167.48 L198.22,167.71 L198.53,167.94 L198.85,168.17 L199.16,168.40 L199.47,168.63 L199.78,168.86 L200.10,169.09 L200.41,169.33 L200.72,169.56 L201.04,169.79 L201.35,170.03 L201.66,170.26 L201.97,170.50 L202.29,170.73 L202.60,170.97 L202.91,171.21 L203.22,171.45 L203.54,171.68 L203.85,171.92 L204.16,172.16 L204.47,172.40 L204.79,172.64 L205.10,172.89 L205.41,173.13 L205.72,173.37 L206.04,173.61 L206.35,173.86 L206.66,174.10 L206.97,174.35 L207.29,174.60 L207.60,174.84 L207.91,175.09 L208.22,175.34 L208.54,175.59 L208.85,175.83 L209.16,176.08 L209.47,176.33 L209.79,176.59 L210.10,176.84 L210.41,177.09 L210.73,177.34 L211.04,177.59 L211.35,177.85 L211.66,178.10 L211.98,178.36 L212.29,178.61 L212.60,178.87 L212.91,179.13 L213.23,179.39 L213.54,179.64 L213.85,179.90 L214.16,180.16 L214.48,180.42 L214.79,180.68 L215.10,180.94 L215.41,181.21 L215.73,181.47 L216.04,181.73 L216.35,182.00 L216.66,182.26 L216.98,182.53 L217.29,182.79 L217.60,183.06 L217.91,183.32 L218.23,183.59 L218.54,183.86 L218.85,184.13 L219.17,184.40 L219.48,184.67 L219.79,184.94 L220.10,185.21 L220.42,185.48 L220.73,185.75 L221.04,186.03 L221.35,186.30 L221.67,186.57 L221.98,186.85 L222.29,187.12 L222.60,187.40 L222.92,187.68 L223.23,187.95 L223.54,188.23 L223.85,188.51 L224.17,188.79 L224.48,189.07 L224.79,189.35 L225.10,189.63 L225.42,189.91 L225.73,190.19 L226.04,190.48 L226.35,190.76 L226.67,191.04 L226.98,191.33 L227.29,191.61 L227.61,191.90 L227.92,192.19 L228.23,192.47 L228.54,192.76 L228.86,193.05 L229.17,193.34 L229.48,193.63 L229.79,193.92 L230.11,194.21 L230.42,194.50 L230.73,194.79 L231.04,195.08 L231.36,195.37 L231.67,195.67 L231.98,195.96 L232.29,196.26 L232.61,196.55 L232.92,196.85 L233.23,197.15 L233.54,197.44 L233.86,197.74 L234.17,198.04 L234.48,198.34 L234.79,198.64 L235.11,198.94 L235.42,199.24 L235.73,199.54 L236.05,199.84 L236.36,200.14 L236.67,200.45 L236.98,200.75 L237.30,201.06 L237.61,201.36 L237.92,201.67 L238.23,201.97 L238.55,202.28 L238.86,202.59 L239.17,202.90 L239.48,203.20 L239.80,203.51 L240.11,203.82 L240.42,204.13 L240.73,204.44 L241.05,204.76 L241.36,205.07 L241.67,205.38 L241.98,205.69 L242.30,206.01 L242.61,206.32 L242.92,206.64 L243.23,206.95 L243.55,207.27 L243.86,207.59 L244.17,207.91 L244.48,208.22 L244.80,208.54 L245.11,208.86 L245.42,209.18 L245.74,209.50 L246.05,209.82 L246.36,210.15 L246.67,210.47 L246.99,210.79 L247.30,211.11 L247.61,211.44 L247.92,211.76 L248.24,212.09 L248.55,212.41 L248.86,212.74 L249.17,213.07 L249.49,213.40 L249.80,213.72 L250.11,214.05 L250.42,214.38 L250.74,214.71 L251.05,215.04 L251.36,215.38 L251.67,215.71 L251.99,216.04 L252.30,216.37 L252.61,216.71 L252.92,217.04 L253.24,217.38 L253.55,217.71 L253.86,218.05 L254.18,218.38 L254.49,218.72 L254.80,219.06 L255.11,219.40 L255.43,219.74 L255.74,220.08 L256.05,220.42 L256.36,220.76 L256.68,221.10 L256.99,221.44 L257.30,221.78 L257.61,222.13 L257.93,222.47 L258.24,222.81 L258.55,223.16 L258.86,223.50 L259.18,223.85 L259.49,224.20 L259.80,224.54 L260.11,224.89 L260.43,225.24 L260.74,225.59 L261.05,225.94 L261.36,226.29 L261.68,226.64 L261.99,226.99 L262.30,227.34 L262.62,227.70 L262.93,228.05 L263.24,228.40 L263.55,228.76 L263.87,229.11 L264.18,229.47 L264.49,229.82 L264.80,230.18 L265.12,230.54 L265.43,230.90 L265.74,231.26 L266.05,231.61 L266.37,231.97 L266.68,232.33 L266.99,232.69 L267.30,233.06 L267.62,233.42 L267.93,233.78 L268.24,234.14 L268.55,234.51 L268.87,234.87 L269.18,235.24 L269.49,235.60 L269.80,235.97 L270.12,236.34 L270.43,236.70 L270.74,237.07 L271.06,237.44 L271.37,237.81 L271.68,238.18 L271.99,238.55 L272.31,238.92 L272.62,239.29 L272.93,239.66 L273.24,240.03 L273.56,240.41 L273.87,240.78 L274.18,241.16 L274.49,241.53 L274.81,241.91 L275.12,242.28 L275.43,242.66 L275.74,243.04 L276.06,243.41 L276.37,243.79 L276.68,244.17 L276.99,244.55 L277.31,244.93 L277.62,245.31 L277.93,245.69 L278.24,246.07 L278.56,246.46 L278.87,246.84 L279.18,247.22 L279.49,247.61 L279.81,247.99 L280.12,248.38 L280.43,248.76 L280.75,249.15 L281.06,249.54 L281.37,249.92 L281.68,250.31 L282.00,250.70 L282.31,251.09 L282.62,251.48 L282.93,251.87 L283.25,252.26 L283.56,252.65 L283.87,253.04 L284.18,253.44 L284.50,253.83 L284.81,254.22 L285.12,254.62 L285.43,255.01 L285.75,255.41 L286.06,255.81 L286.37,256.20 L286.68,256.60 L287.00,257.00 L287.31,257.40 L287.62,257.80 L287.93,258.20 L288.25,258.60 L288.56,259.00 L288.87,259.40 L289.19,259.80 L289.50,260.20 L289.81,260.61 L290.12,261.01 L290.44,261.41 L290.75,261.82 L291.06,262.22 L291.37,262.63 L291.69,263.04 L292.00,263.44 L292.31,263.85 L292.62,264.26 L292.94,264.67 L293.25,265.08 L293.56,265.49 L293.87,265.90 L294.19,266.31 L294.50,266.72 L294.81,267.14 L295.12,267.55 L295.44,267.96 L295.75,268.38 L296.06,268.79 L296.37,269.21 L296.69,269.62 L297.00,270.04" stroke="#000" stroke-width="1.45" stroke-dasharray="2.6 5.55"/>
<path d="M78.50,52.43 L78.97,52.35 L79.43,52.28 L79.90,52.24 L80.37,52.22 L80.83,52.21 L81.30,52.23 L81.76,52.26 L82.23,52.31 L82.70,52.37 L83.16,52.46 L83.63,52.56 L84.10,52.68 L84.56,52.81 L85.03,52.96 L85.50,53.13 L85.96,53.31 L86.43,53.51 L86.89,53.73 L87.36,53.96 L87.83,54.20 L88.29,54.46 L88.76,54.74 L89.23,55.02 L89.69,55.33 L90.16,55.64 L90.63,55.97 L91.09,56.31 L91.56,56.67 L92.03,57.04 L92.49,57.42 L92.96,57.81 L93.42,58.22 L93.89,58.63 L94.36,59.06 L94.82,59.50 L95.29,59.95 L95.76,60.41 L96.22,60.89 L96.69,61.37 L97.16,61.86 L97.62,62.36 L98.09,62.87 L98.55,63.39 L99.02,63.92 L99.49,64.46 L99.95,65.01 L100.42,65.56 L100.89,66.13 L101.35,66.70 L101.82,67.28 L102.29,67.87 L102.75,68.47 L103.22,69.08 L103.68,69.70 L104.15,70.33 L104.62,70.97 L105.08,71.63 L105.55,72.30 L106.02,72.98 L106.48,73.67 L106.95,74.38 L107.42,75.10 L107.88,75.83 L108.35,76.58 L108.81,77.35 L109.28,78.13 L109.75,78.93 L110.21,79.73 L110.68,80.55 L111.15,81.37 L111.61,82.20 L112.08,83.03 L112.55,83.87 L113.01,84.70 L113.48,85.53 L113.94,86.36 L114.41,87.18 L114.88,87.99 L115.34,88.80 L115.81,89.59 L116.28,90.38 L116.74,91.17 L117.21,91.94 L117.68,92.71 L118.14,93.47 L118.61,94.23 L119.08,94.97 L119.54,95.71 L120.01,96.44 L120.47,97.17 L120.94,97.89 L121.41,98.60 L121.87,99.30 L122.34,99.99 L122.81,100.68 L123.27,101.36 L123.74,102.04 L124.21,102.71 L124.67,103.37 L125.14,104.02 L125.60,104.67 L126.07,105.31 L126.54,105.94 L127.00,106.57 L127.47,107.19 L127.94,107.80 L128.40,108.40 L128.87,109.00 L129.34,109.59 L129.80,110.18 L130.27,110.76 L130.73,111.33 L131.20,111.89 L131.67,112.45 L132.13,113.00 L132.60,113.55 L133.07,114.09 L133.53,114.62 L134.00,115.15 L134.47,115.66 L134.93,116.18 L135.40,116.68 L135.86,117.18 L136.33,117.68 L136.80,118.16 L137.26,118.64 L137.73,119.12 L138.20,119.59 L138.66,120.05 L139.13,120.50 L139.60,120.95 L140.06,121.39 L140.53,121.83 L140.99,122.26 L141.46,122.69 L141.93,123.10 L142.39,123.52 L142.86,123.92 L143.33,124.32 L143.79,124.72 L144.26,125.11 L144.73,125.49 L145.19,125.87 L145.66,126.24 L146.13,126.61 L146.59,126.97 L147.06,127.33 L147.52,127.68 L147.99,128.02 L148.46,128.36 L148.92,128.70 L149.39,129.03 L149.86,129.36 L150.32,129.68 L150.79,130.00 L151.26,130.32 L151.72,130.62 L152.19,130.93 L152.65,131.23 L153.12,131.53 L153.59,131.82 L154.05,132.11 L154.52,132.40 L154.99,132.68 L155.45,132.96 L155.92,133.23 L156.39,133.50 L156.85,133.77 L157.32,134.04 L157.78,134.30 L158.25,134.56 L158.72,134.81 L159.18,135.07 L159.65,135.32 L160.12,135.56 L160.58,135.81 L161.05,136.05 L161.52,136.29 L161.98,136.53 L162.45,136.77 L162.91,137.00 L163.38,137.23 L163.85,137.46 L164.31,137.69 L164.78,137.91 L165.25,138.14 L165.71,138.36 L166.18,138.58 L166.65,138.80 L167.11,139.02 L167.58,139.23 L168.05,139.45 L168.51,139.66 L168.98,139.88 L169.44,140.09 L169.91,140.30 L170.38,140.51 L170.84,140.72 L171.31,140.93 L171.78,141.14 L172.24,141.35 L172.71,141.56 L173.18,141.77 L173.64,141.98 L174.11,142.19 L174.57,142.40 L175.04,142.60 L175.51,142.81 L175.97,143.02 L176.44,143.23 L176.91,143.44 L177.37,143.66 L177.84,143.87 L178.31,144.08 L178.77,144.29 L179.24,144.51 L179.70,144.72 L180.17,144.94 L180.64,145.16 L181.10,145.38 L181.57,145.60 L182.04,145.82 L182.50,146.04 L182.97,146.27 L183.44,146.50 L183.90,146.72 L184.37,146.95 L184.83,147.18 L185.30,147.42 L185.77,147.65 L186.23,147.89 L186.70,148.12 L187.17,148.36 L187.63,148.60 L188.10,148.84 L188.57,149.08 L189.03,149.32 L189.50,149.57 L189.96,149.81 L190.43,150.06 L190.90,150.31 L191.36,150.56 L191.83,150.81 L192.30,151.06 L192.76,151.31 L193.23,151.57 L193.70,151.82 L194.16,152.08 L194.63,152.34 L195.10,152.60 L195.56,152.86 L196.03,153.12 L196.49,153.38 L196.96,153.64 L197.43,153.91 L197.89,154.17 L198.36,154.44 L198.83,154.70 L199.29,154.97 L199.76,155.24 L200.23,155.51 L200.69,155.78 L201.16,156.05 L201.62,156.32 L202.09,156.60 L202.56,156.87 L203.02,157.15 L203.49,157.42 L203.96,157.70 L204.42,157.98 L204.89,158.25 L205.36,158.53 L205.82,158.81 L206.29,159.09 L206.75,159.37 L207.22,159.66 L207.69,159.94 L208.15,160.22 L208.62,160.50 L209.09,160.79 L209.55,161.07 L210.02,161.36 L210.49,161.65 L210.95,161.93 L211.42,162.22 L211.88,162.51 L212.35,162.80 L212.82,163.09 L213.28,163.38 L213.75,163.67 L214.22,163.96 L214.68,164.25 L215.15,164.54 L215.62,164.83 L216.08,165.12 L216.55,165.42 L217.02,165.71 L217.48,166.00 L217.95,166.30 L218.41,166.59 L218.88,166.88 L219.35,167.18 L219.81,167.47 L220.28,167.77 L220.75,168.07 L221.21,168.36 L221.68,168.66 L222.15,168.95 L222.61,169.25 L223.08,169.55 L223.54,169.84 L224.01,170.14 L224.48,170.44 L224.94,170.74 L225.41,171.03 L225.88,171.33 L226.34,171.63 L226.81,171.93 L227.28,172.23 L227.74,172.52 L228.21,172.82 L228.67,173.12 L229.14,173.42 L229.61,173.72 L230.07,174.02 L230.54,174.32 L231.01,174.61 L231.47,174.91 L231.94,175.21 L232.41,175.51 L232.87,175.81 L233.34,176.11 L233.80,176.41 L234.27,176.71 L234.74,177.01 L235.20,177.31 L235.67,177.60 L236.14,177.90 L236.60,178.20 L237.07,178.50 L237.54,178.80 L238.00,179.10 L238.47,179.40 L238.93,179.69 L239.40,179.99 L239.87,180.29 L240.33,180.59 L240.80,180.89 L241.27,181.18 L241.73,181.48 L242.20,181.78 L242.67,182.08 L243.13,182.37 L243.60,182.67 L244.07,182.97 L244.53,183.26 L245.00,183.56 L245.46,183.85 L245.93,184.15 L246.40,184.44 L246.86,184.74 L247.33,185.03 L247.80,185.33 L248.26,185.62 L248.73,185.92 L249.20,186.21 L249.66,186.50 L250.13,186.80 L250.59,187.09 L251.06,187.38 L251.53,187.67 L251.99,187.96 L252.46,188.26 L252.93,188.55 L253.39,188.84 L253.86,189.13 L254.33,189.42 L254.79,189.71 L255.26,189.99 L255.72,190.28 L256.19,190.57 L256.66,190.86 L257.12,191.14 L257.59,191.43 L258.06,191.72 L258.52,192.00 L258.99,192.29 L259.46,192.57 L259.92,192.85 L260.39,193.14 L260.85,193.42 L261.32,193.70 L261.79,193.98 L262.25,194.26 L262.72,194.54 L263.19,194.82 L263.65,195.10 L264.12,195.38 L264.59,195.66 L265.05,195.94 L265.52,196.21 L265.98,196.49 L266.45,196.77 L266.92,197.04 L267.38,197.31 L267.85,197.59 L268.32,197.86 L268.78,198.13 L269.25,198.40 L269.72,198.67 L270.18,198.94 L270.65,199.21 L271.12,199.48 L271.58,199.75 L272.05,200.01 L272.51,200.28 L272.98,200.55 L273.45,200.81 L273.91,201.07 L274.38,201.34 L274.85,201.60 L275.31,201.86 L275.78,202.12 L276.25,202.38 L276.71,202.64 L277.18,202.89 L277.64,203.15 L278.11,203.41 L278.58,203.66 L279.04,203.92 L279.51,204.17 L279.98,204.42 L280.44,204.67 L280.91,204.92 L281.38,205.17 L281.84,205.42 L282.31,205.67 L282.77,205.91 L283.24,206.16 L283.71,206.40 L284.17,206.65 L284.64,206.89 L285.11,207.13 L285.57,207.37 L286.04,207.61 L286.51,207.85 L286.97,208.08 L287.44,208.32 L287.90,208.55 L288.37,208.79 L288.84,209.02 L289.30,209.25 L289.77,209.48 L290.24,209.71 L290.70,209.94 L291.17,210.17 L291.64,210.39 L292.10,210.62 L292.57,210.84 L293.04,211.06 L293.50,211.28 L293.97,211.50 L294.43,211.72 L294.90,211.94 L295.37,212.16 L295.83,212.37 L296.30,212.58 L296.77,212.80 L297.23,213.01 L297.70,213.22 L298.17,213.43 L298.63,213.63 L299.10,213.84 L299.56,214.04 L300.03,214.25 L300.50,214.45 L300.96,214.65 L301.43,214.85 L301.90,215.05 L302.36,215.24 L302.83,215.44 L303.30,215.63 L303.76,215.82 L304.23,216.02 L304.69,216.21 L305.16,216.39 L305.63,216.58 L306.09,216.77 L306.56,216.95 L307.03,217.14 L307.49,217.32 L307.96,217.50 L308.43,217.68 L308.89,217.86 L309.36,218.04 L309.82,218.21 L310.29,218.39 L310.76,218.56 L311.22,218.73 L311.69,218.90 L312.16,219.07 L312.62,219.24 L313.09,219.41 L313.56,219.58 L314.02,219.74 L314.49,219.90 L314.95,220.07 L315.42,220.23 L315.89,220.39 L316.35,220.55 L316.82,220.70 L317.29,220.86 L317.75,221.02 L318.22,221.17 L318.69,221.32 L319.15,221.48 L319.62,221.63 L320.09,221.78 L320.55,221.92 L321.02,222.07 L321.48,222.22 L321.95,222.36 L322.42,222.51 L322.88,222.65 L323.35,222.79 L323.82,222.93 L324.28,223.07 L324.75,223.21 L325.22,223.34 L325.68,223.48 L326.15,223.61 L326.61,223.75 L327.08,223.88 L327.55,224.01 L328.01,224.14 L328.48,224.27 L328.95,224.40 L329.41,224.53 L329.88,224.65 L330.35,224.78 L330.81,224.90 L331.28,225.02 L331.74,225.15 L332.21,225.27 L332.68,225.39 L333.14,225.50 L333.61,225.62 L334.08,225.74 L334.54,225.85 L335.01,225.97 L335.48,226.08 L335.94,226.19 L336.41,226.30 L336.87,226.41 L337.34,226.52 L337.81,226.63 L338.27,226.74 L338.74,226.85 L339.21,226.95 L339.67,227.05 L340.14,227.16 L340.61,227.26 L341.07,227.36 L341.54,227.46 L342.01,227.56 L342.47,227.66 L342.94,227.76 L343.40,227.85 L343.87,227.95 L344.34,228.04 L344.80,228.13 L345.27,228.23 L345.74,228.32 L346.20,228.41 L346.67,228.50 L347.14,228.59 L347.60,228.68 L348.07,228.76 L348.53,228.85 L349.00,228.93 L349.47,229.02 L349.93,229.10 L350.40,229.18 L350.87,229.26 L351.33,229.34 L351.80,229.42 L352.27,229.50 L352.73,229.58 L353.20,229.66 L353.66,229.73 L354.13,229.81 L354.60,229.88 L355.06,229.96 L355.53,230.03 L356.00,230.10 L356.46,230.17 L356.93,230.24 L357.40,230.31 L357.86,230.38 L358.33,230.45 L358.79,230.51 L359.26,230.58 L359.73,230.64 L360.19,230.71 L360.66,230.77 L361.13,230.83 L361.59,230.89 L362.06,230.95 L362.53,231.01 L362.99,231.07 L363.46,231.13 L363.92,231.19 L364.39,231.25 L364.86,231.30 L365.32,231.36 L365.79,231.41 L366.26,231.47 L366.72,231.52 L367.19,231.57 L367.66,231.62 L368.12,231.67 L368.59,231.72 L369.06,231.77 L369.52,231.82 L369.99,231.87 L370.45,231.92 L370.92,231.96 L371.39,232.01 L371.85,232.05 L372.32,232.10 L372.79,232.14 L373.25,232.18 L373.72,232.22 L374.19,232.26 L374.65,232.31 L375.12,232.34 L375.58,232.38 L376.05,232.42 L376.52,232.46 L376.98,232.50 L377.45,232.53 L377.92,232.57 L378.38,232.60 L378.85,232.64 L379.32,232.67 L379.78,232.71 L380.25,232.74 L380.71,232.77 L381.18,232.80 L381.65,232.83 L382.11,232.86 L382.58,232.89 L383.05,232.92 L383.51,232.95 L383.98,232.97 L384.45,233.00 L384.91,233.03 L385.38,233.05 L385.84,233.08 L386.31,233.10 L386.78,233.12 L387.24,233.15 L387.71,233.17 L388.18,233.19 L388.64,233.21 L389.11,233.23 L389.58,233.25 L390.04,233.27 L390.51,233.29 L390.97,233.31 L391.44,233.33 L391.91,233.34 L392.37,233.36 L392.84,233.38 L393.31,233.39 L393.77,233.41 L394.24,233.42 L394.71,233.44 L395.17,233.45 L395.64,233.46 L396.11,233.48 L396.57,233.49 L397.04,233.50 L397.50,233.51 L397.97,233.52 L398.44,233.53 L398.90,233.54 L399.37,233.55 L399.84,233.56 L400.30,233.56 L400.77,233.57 L401.24,233.58 L401.70,233.59 L402.17,233.59 L402.63,233.60 L403.10,233.60 L403.57,233.61 L404.03,233.61 L404.50,233.62" stroke="#000" stroke-width="1.45" stroke-dasharray="2.6 3.9"/>
</g>
<g font-family="Liberation Serif, serif" font-size="20.2" fill="#000">
<text x="76.10" y="37.49" text-anchor="end">0.200</text>
<text x="76.10" y="73.46" text-anchor="end">0.100</text>
<text x="76.10" y="109.42" text-anchor="end">0.050</text>
<text x="76.10" y="156.97" text-anchor="end">0.020</text>
<text x="76.10" y="192.94" text-anchor="end">0.010</text>
<text x="76.10" y="228.90" text-anchor="end">0.005</text>
<text x="76.10" y="276.45" text-anchor="end">0.002</text>
<text x="79.50" y="289.30" text-anchor="middle">0</text>
<text x="133.65" y="289.30" text-anchor="middle">2</text>
<text x="187.80" y="289.30" text-anchor="middle">4</text>
<text x="241.95" y="289.30" text-anchor="middle">6</text>
<text x="296.10" y="289.30" text-anchor="middle">8</text>
<text x="350.25" y="289.30" text-anchor="middle">10</text>
<text x="404.40" y="289.30" text-anchor="middle">12</text>
<text x="241.2" y="314.6" text-anchor="middle">Galactocentric angle (°)</text>
<g transform="translate(20,0) rotate(-90)">
<text x="-269.1" y="0" textLength="176.3" lengthAdjust="spacing">Intensity (photons cm</text>
<path d="M-91.6,-12.9 H-84.1" stroke="#000" stroke-width="1.05" fill="none"/>
<text x="-83.6" y="-8.7" font-size="14">2</text>
<text x="-74.7" y="0" font-style="italic">s</text>
<path d="M-65.9,-12.9 H-58.3" stroke="#000" stroke-width="1.05" fill="none"/>
<text x="-58.1" y="-8.7" font-size="14">1</text>
<text x="-49.5" y="0">sr</text>
<path d="M-35.0,-12.9 H-27.4" stroke="#000" stroke-width="1.05" fill="none"/>
<text x="-25.7" y="-8.7" font-size="14">1</text>
<text x="-18.3" y="0">)</text>
</g>
</g>
</svg>
</body></html>
